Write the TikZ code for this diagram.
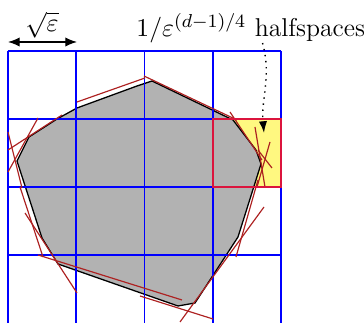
\documentclass[tikz,border=0pt]{standalone}
\usetikzlibrary{arrows.meta, positioning, calc}
\definecolor{hullgray}{gray}{0.7}
\definecolor{cutred}{rgb}{0.68,0.13,0.13}
\definecolor{cellred}{rgb}{0.86,0.08,0.24}
\tikzset{
    gridline/.style = {draw=blue, line width=0.65pt},
    hull/.style = {draw=black, line width=0.55pt, fill=hullgray},
    halfspace/.style = {draw=cutred, line width=0.5pt},
    pickcell/.style = {draw=cellred, line width=0.65pt, fill=yellow!50},
    arrow/.style = {line width=0.6pt, <->, >={Latex[length=5pt,width=4pt]}},
    pointer/.style = {line width=0.6pt, dotted, ->, >={Latex[length=5pt,width=3.5pt]}},
    lbl/.style = {font=\fontsize{11}{13}\selectfont, inner sep=0pt}
}
\begin{document}
\begin{tikzpicture}[x=0.15mm, y=-0.15mm]
\useasboundingbox (0,0) rectangle (364,323);

% chosen cell
\fill [yellow!50] (212.75,119) rectangle (281,187);

% convex body
\path [hull] (152,81) -- (233,120) -- (256,150) -- (261,164) -- (238,237) -- (195,303)
    -- (178,306) -- (58,264) -- (42,238) -- (17,161) -- (29,137) -- (57,119) -- (77,108)
    -- (137,86) -- cycle;

% grid of side sqrt(eps)
\foreach \i in {0,...,4}
    \draw [gridline] ({8+68.25*\i},51) -- ({8+68.25*\i},323);
\foreach \j in {51,119,187,255}
    \draw [gridline] (8,\j) -- (281,\j);

% halfspaces
\foreach \ax/\ay/\bx/\by in {8/150/62/115, 8/172/38/118, 8/132/22/188, 20/187/43/257,
    25/213/77/293, 38/255/182/300, 140/296/213/319, 264/207/180/322, 258/180/236/257,
    77/102/145/78, 144/76/237/120, 230/112/262/160, 255/127/265/187, 270/142/257/187,
    258/150/272/168}
    \draw [halfspace] (\ax,\ay) -- (\bx,\by);

\draw [pickcell, fill=none] (212.75,119) rectangle (281,187);

% labels
\coordinate (cellL) at (8,42);
\coordinate (cellR) at (77,42);
\draw [arrow] (cellL) -- (cellR);
\node (eps) [lbl, anchor=base] at (42,32) {$\sqrt{\varepsilon}$};

\node (count) [lbl, anchor=base west] at (136,37) {$1/\varepsilon^{(d-1)/4}$ halfspaces};
\coordinate (tip) at (264,133);
\draw [pointer] ($(count.base east)+(-103,6)$) to[out=-75, in=95] (tip);
\end{tikzpicture}
\end{document}
